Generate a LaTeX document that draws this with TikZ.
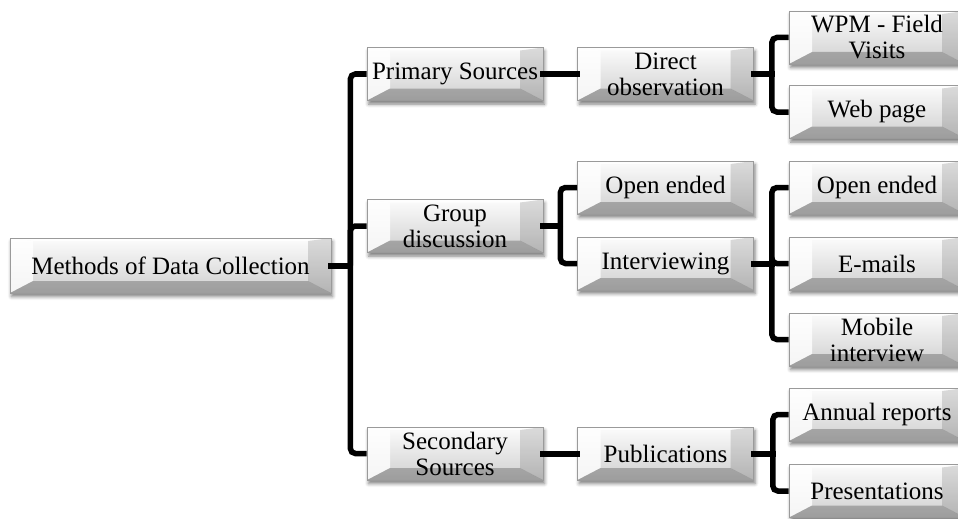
\documentclass[tikz,border=0pt]{standalone}
\usepackage{fontspec}
\setmainfont{Liberation Serif}
\usetikzlibrary{shadows.blur}

\definecolor{rimgray}{HTML}{9A9A9A}
\definecolor{facetop}{HTML}{FCFCFC}
\definecolor{facebot}{HTML}{CFCFCF}

\tikzset{
  bevelbox/.style={
    draw=rimgray, line width=0.7pt,
    top color=facetop, bottom color=facebot,
    minimum width=176pt, minimum height=53pt, inner sep=0pt,
    align=center, font=\fontsize{25}{26}\selectfont,
    blur shadow={shadow xshift=1.5pt, shadow yshift=-3.5pt,
                 shadow blur radius=3.5pt, shadow opacity=50},
    path picture={
      \coordinate (nw) at (path picture bounding box.north west);
      \coordinate (ne) at (path picture bounding box.north east);
      \coordinate (sw) at (path picture bounding box.south west);
      \coordinate (se) at (path picture bounding box.south east);
      \coordinate (inw) at ([shift={(23pt,-3pt)}]nw);
      \coordinate (ine) at ([shift={(-23pt,-3pt)}]ne);
      \coordinate (isw) at ([shift={(23pt,12pt)}]sw);
      \coordinate (ise) at ([shift={(-23pt,12pt)}]se);
      % bevel facets round the flat face
      \fill[white, opacity=0.9] (nw) -- (ne) -- (ine) -- (inw) -- cycle;
      \fill[white, opacity=0.8] (nw) -- (inw) -- (isw) -- (sw) -- cycle;
      \fill[black, opacity=0.13] (ne) -- (ine) -- (ise) -- (se) -- cycle;
      \fill[black, opacity=0.24] (sw) -- (isw) -- (ise) -- (se) -- cycle;
    }
  },
  conn/.style={line width=6pt, draw=black, line cap=rect},
  branch/.style={line width=5.5pt, draw=black, rounded corners=5pt}
}

\begin{document}
\begin{tikzpicture}[x=1pt, y=-1pt]
\useasboundingbox (0,0) rectangle (958,519);

% root
\node[bevelbox, minimum width=321pt, minimum height=55pt] (meth) at (170.5,265.5) {Methods of Data Collection};

% second level
\node[bevelbox] (prim) at (455,74)    {Primary Sources};
\node[bevelbox] (grp)  at (455,226)   {Group\\discussion};
\node[bevelbox] (sec)  at (455,453.5) {Secondary\\Sources};

% third level
\node[bevelbox] (dir)   at (665.5,74)    {Direct\\observation};
\node[bevelbox] (open1) at (665.5,187.5) {Open ended};
\node[bevelbox] (intv)  at (665.5,263.5) {Interviewing};
\node[bevelbox] (pub)   at (665.5,453.5) {Publications};

% fourth level
\node[bevelbox] (wpm)   at (877,37.5)  {WPM - Field\\Visits};
\node[bevelbox] (web)   at (877,112)   {Web page};
\node[bevelbox] (open2) at (877,187.5) {Open ended};
\node[bevelbox] (email) at (877,263.5) {E-mails};
\node[bevelbox] (mob)   at (877,339.5) {Mobile\\interview};
\node[bevelbox] (ann)   at (877,414.5) {Annual reports};
\node[bevelbox] (pres)  at (877,491)   {Presentations};

% root to second level
\draw[conn] (meth.east) -- ++(19,0) coordinate (s1);
\draw[branch] (s1) |- (prim.west);
\draw[branch] (s1) |- (grp.west);
\draw[branch] (s1) |- (sec.west);

% second to third level
\draw[conn] (prim.east) -- (dir.west);
\draw[conn] (grp.east) -- ++(17,0) coordinate (s2);
\draw[branch] (s2) |- (open1.west);
\draw[branch] (s2) |- (intv.west);
\draw[conn] (sec.east) -- (pub.west);

% third to fourth level
\draw[conn] (dir.east) -- ++(18,0) coordinate (s3);
\draw[branch] (s3) |- (wpm.west);
\draw[branch] (s3) |- (web.west);
\draw[conn] (intv.east) -- ++(18,0) coordinate (s4);
\draw[branch] (s4) |- (open2.west);
\draw[branch] (s4) |- (email.west);
\draw[branch] (s4) |- (mob.west);
\draw[conn] (pub.east) -- ++(19,0) coordinate (s5);
\draw[branch] (s5) |- (ann.west);
\draw[branch] (s5) |- (pres.west);
\end{tikzpicture}
\end{document}
